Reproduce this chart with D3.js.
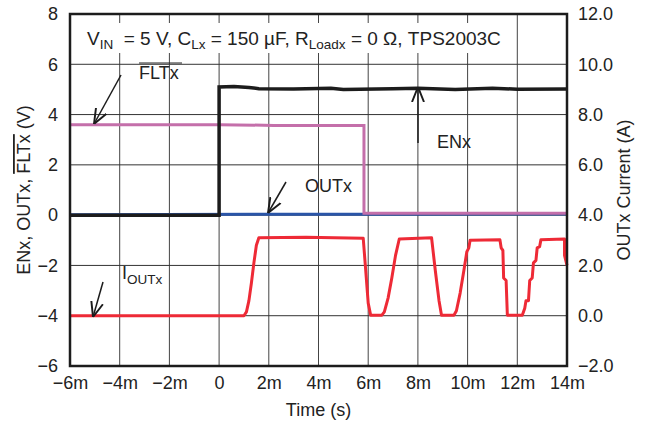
<!DOCTYPE html>
<html>
<head>
<meta charset="utf-8">
<script src="https://cdn.jsdelivr.net/npm/d3@7"></script>
<style>
  body { margin: 0; background: #fff; }
  text { font-family: "Liberation Sans", Arial, sans-serif; fill: #222; }
</style>
</head>
<body>
<div id="chart"></div>
<script>
(function() {

    // time in ms, values in V (left axis) or A (right axis)
    const xTicks = [-6, -4, -2, 0, 2, 4, 6, 8, 10, 12, 14];
    const yLeftTicks = [-6, -4, -2, 0, 2, 4, 6, 8];
    const yRightTicks = [-2, 0, 2, 4, 6, 8, 10, 12];

    const enx = [[-6, 0], [0, 0], [0, 5.1], [0.6, 5.12], [1.2, 5.08], [1.6, 5.03], [3, 5.02], [4.5, 5.05],
                 [5, 5.0], [7, 5.03], [8, 5.05], [9.5, 5.0], [11, 5.05], [12, 5.01], [14, 5.02]];
    const outx = [[-6, 0.02], [5.83, 0.04], [14, 0.05]];
    const fltx = [[-6, 3.6], [0, 3.6], [2.2, 3.57], [5.83, 3.57], [5.83, 0.08], [14, 0.08]];
    const ioutx = [[-6, 0], [1.0, 0], [1.1, 0.15], [1.2, 0.6], [1.3, 1.3], [1.4, 2.1], [1.5, 2.8], [1.6, 3.1],
                   [3.5, 3.12], [5.8, 3.08], [5.9, 1.8], [6.0, 0.5], [6.1, 0.02], [6.55, 0.02], [6.65, 0.15],
                   [6.8, 0.7], [6.95, 1.5], [7.1, 2.4], [7.25, 3.05], [8.55, 3.1], [8.7, 1.8], [8.85, 0.6],
                   [8.95, 0.02], [9.45, 0.02], [9.55, 0.2], [9.7, 0.9], [9.85, 1.8], [9.97, 2.55], [10.05, 2.7],
                   [10.1, 3.0], [11.3, 3.02], [11.35, 2.7], [11.42, 2.6], [11.45, 1.5], [11.55, 1.4], [11.6, 0.02],
                   [12.2, 0.02], [12.3, 0.3], [12.35, 0.6], [12.45, 0.6], [12.5, 1.4], [12.6, 1.5], [12.65, 2.1],
                   [12.75, 2.2], [12.8, 2.7], [12.9, 2.75], [12.95, 3.02], [13.9, 3.05], [13.9, 2.4], [14, 2.0]];

    const W = 646, H = 428;
    const margin = {top: 14, right: 79, bottom: 62, left: 70};
    const width = W - margin.left - margin.right;
    const height = H - margin.top - margin.bottom;
    const fs = 18;

    const svg = d3.select("#chart").append("svg")
        .attr("width", W)
        .attr("height", H);

    const g = svg.append("g")
        .attr("transform", "translate(" + margin.left + "," + margin.top + ")");

    const x = d3.scaleLinear().domain([-6, 14]).range([0, width]);
    const yL = d3.scaleLinear().domain([-6, 8]).range([height, 0]);
    const yR = d3.scaleLinear().domain([-2, 12]).range([height, 0]);

    // grid
    g.append("g").selectAll("line").data(xTicks).join("line")
        .attr("x1", d => x(d)).attr("x2", d => x(d))
        .attr("y1", 0).attr("y2", height)
        .attr("stroke", "#444").attr("stroke-width", 1);
    g.append("g").selectAll("line").data(yLeftTicks).join("line")
        .attr("x1", 0).attr("x2", width)
        .attr("y1", d => yL(d)).attr("y2", d => yL(d))
        .attr("stroke", "#333").attr("stroke-width", 1);

    // white box behind the condition text
    g.append("rect")
        .attr("x", 1).attr("y", 9).attr("width", 438).attr("height", 30)
        .attr("fill", "#fff");

    const minus = d => (d < 0 ? "\u2212" : "") + Math.abs(d);

    // axes (labels only)
    const xAxis = g.append("g")
        .attr("transform", "translate(0," + height + ")")
        .call(d3.axisBottom(x).tickValues(xTicks).tickSize(0).tickPadding(10)
            .tickFormat(d => d === 0 ? "0" : minus(d) + "m"));
    const yAxisL = g.append("g")
        .call(d3.axisLeft(yL).tickValues(yLeftTicks).tickSize(0).tickPadding(12).tickFormat(minus));
    const yAxisR = g.append("g")
        .attr("transform", "translate(" + width + ",0)")
        .call(d3.axisRight(yR).tickValues(yRightTicks).tickSize(0).tickPadding(11).tickFormat(d3.format(".1f")));

    [xAxis, yAxisL, yAxisR].forEach(a => {
        a.select(".domain").remove();
        a.selectAll("text").attr("font-size", fs)
            .attr("font-family", "Liberation Sans, Arial, sans-serif").attr("fill", "#222");
    });

    // traces
    const lineL = d3.line().x(d => x(d[0])).y(d => yL(d[1]));
    const lineR = d3.line().x(d => x(d[0])).y(d => yR(d[1]));

    g.append("path").datum(ioutx).attr("d", lineR)
        .attr("fill", "none").attr("stroke", "#ee2a36").attr("stroke-width", 3).attr("stroke-linejoin", "round");
    g.append("path").datum(outx).attr("d", lineL)
        .attr("fill", "none").attr("stroke", "#2a55a8").attr("stroke-width", 3);
    g.append("path").datum(fltx).attr("d", lineL)
        .attr("fill", "none").attr("stroke", "#c46faa").attr("stroke-width", 3);
    g.append("path").datum(enx).attr("d", lineL)
        .attr("fill", "none").attr("stroke", "#1c1c1c").attr("stroke-width", 3.5);

    // frame
    g.append("rect")
        .attr("width", width).attr("height", height)
        .attr("fill", "none").attr("stroke", "#1c1c1c").attr("stroke-width", 2.5);

    // condition text
    const cond = g.append("text").attr("x", 17).attr("y", 31).attr("font-size", 19);
    cond.append("tspan").text("V");
    cond.append("tspan").attr("font-size", 13.5).attr("dy", 4).text("IN");
    cond.append("tspan").attr("dy", -4).text("  = 5 V, C").attr("xml:space", "preserve");
    cond.append("tspan").attr("font-size", 13.5).attr("dy", 4).text("Lx");
    cond.append("tspan").attr("dy", -4).text(" = 150 \u00b5F, R");
    cond.append("tspan").attr("font-size", 13.5).attr("dy", 4).text("Loadx");
    cond.append("tspan").attr("dy", -4).text(" = 0 \u03a9, TPS2003C");

    // annotations
    svg.append("defs").append("marker")
        .attr("id", "arr").attr("viewBox", "0 0 10 10").attr("refX", 10).attr("refY", 5)
        .attr("markerWidth", 10).attr("markerHeight", 10).attr("orient", "auto")
        .append("path").attr("d", "M0,1 L10,5 L0,9").attr("fill", "none").attr("stroke", "#1c1c1c").attr("stroke-width", 1.3);

    const arrow = (x1, y1, x2, y2) => g.append("line")
        .attr("x1", x1).attr("y1", y1).attr("x2", x2).attr("y2", y2)
        .attr("stroke", "#1c1c1c").attr("stroke-width", 1.5).attr("marker-end", "url(#arr)");

    g.append("text").attr("x", 69).attr("y", 65).attr("font-size", fs).text("FLTx");
    g.append("line").attr("x1", 69).attr("x2", 112).attr("y1", 49).attr("y2", 49)
        .attr("stroke", "#222").attr("stroke-width", 1.2);
    arrow(51, 61, 24, 110);

    g.append("text").attr("x", 235).attr("y", 178).attr("font-size", fs).text("OUTx");
    arrow(216, 168, 198, 199);

    g.append("text").attr("x", 367).attr("y", 134).attr("font-size", fs).text("ENx");
    arrow(348, 129, 348, 73);

    const io = g.append("text").attr("x", 52).attr("y", 265).attr("font-size", fs);
    io.append("tspan").text("I");
    io.append("tspan").attr("font-size", 13.5).attr("dy", 5).text("OUTx");
    arrow(33, 268, 23, 303);

    // axis titles
    const tl = svg.append("text")
        .attr("transform", "translate(30," + (margin.top + height / 2) + ") rotate(-90)")
        .attr("text-anchor", "middle").attr("font-size", fs);
    tl.append("tspan").text("ENx, OUTx, ");
    tl.append("tspan").attr("text-decoration", "overline").text("FLTx");
    tl.append("tspan").text(" (V)");

    svg.append("text")
        .attr("transform", "translate(630," + (margin.top + height / 2) + ") rotate(-90)")
        .attr("text-anchor", "middle").attr("font-size", fs).text("OUTx Current (A)");

    svg.append("text")
        .attr("x", margin.left + width / 2).attr("y", 416)
        .attr("text-anchor", "middle").attr("font-size", fs).text("Time (s)");

})();
</script>
</body>
</html>
